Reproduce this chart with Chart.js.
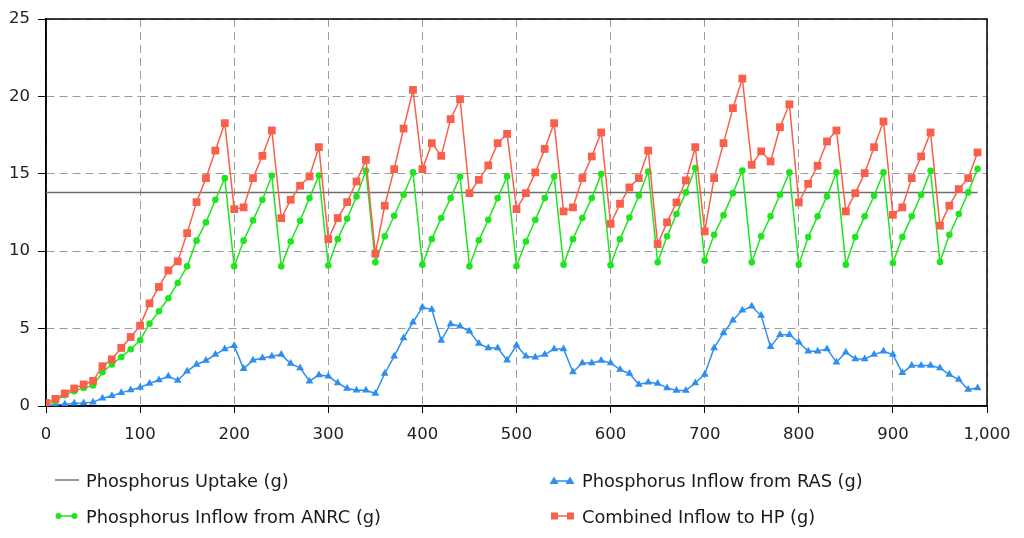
<!DOCTYPE html>
<html>
<head>
<meta charset="utf-8">
<script src="https://cdn.jsdelivr.net/npm/chart.js@4.4.1/dist/chart.umd.min.js"></script>
<style>
    html, body { margin: 0; padding: 0; background: #fff; }
    #wrap { position: relative; width: 1024px; height: 538px; overflow: hidden; }
    #chart { position: absolute; left: 0; top: 0; }
    .legend-item {
        position: absolute;
        font: 17.8px "DejaVu Sans", sans-serif;
        color: #1a1a1a;
        display: flex;
        align-items: center;
        white-space: nowrap;
        height: 20px;
    }
    .legend-item svg { margin-right: 6px; }
</style>
</head>
<body>
<div id="wrap">
    <canvas id="chart" width="1024" height="538"></canvas>
    <div class="legend-item" style="left:54px; top:470px;">
        <svg width="26" height="12"><line x1="1" y1="6" x2="25" y2="6" stroke="#777" stroke-width="1.5"/></svg>
        <span>Phosphorus Uptake (g)</span>
    </div>
    <div class="legend-item" style="left:550px; top:470px;">
        <svg width="26" height="12"><line x1="4" y1="7" x2="22" y2="7" stroke="#2e8ff0" stroke-width="1.5"/>
            <polygon points="4,2.5 8.5,10 -0.5,10" fill="#2e8ff0"/><polygon points="20,2.5 24.5,10 15.5,10" fill="#2e8ff0"/></svg>
        <span>Phosphorus Inflow from RAS (g)</span>
    </div>
    <div class="legend-item" style="left:54px; top:506px;">
        <svg width="26" height="12"><line x1="4" y1="6" x2="22" y2="6" stroke="#1ee61e" stroke-width="1.5"/>
            <circle cx="4.5" cy="6" r="3" fill="#1ee61e"/><circle cx="20.5" cy="6" r="3" fill="#1ee61e"/></svg>
        <span>Phosphorus Inflow from ANRC (g)</span>
    </div>
    <div class="legend-item" style="left:550px; top:506px;">
        <svg width="26" height="12"><line x1="4" y1="6" x2="22" y2="6" stroke="#fa5f4b" stroke-width="1.5"/>
            <rect x="1" y="2.5" width="7" height="7" fill="#fa5f4b"/><rect x="17" y="2.5" width="7" height="7" fill="#fa5f4b"/></svg>
        <span>Combined Inflow to HP (g)</span>
    </div>
</div>
<script>
// x positions of the samples (every 10 units)
const xValues = [
    0, 10, 20, 30, 40, 50, 60, 70, 80, 90,
    100, 110, 120, 130, 140, 150, 160, 170, 180, 190,
    200, 210, 220, 230, 240, 250, 260, 270, 280, 290,
    300, 310, 320, 330, 340, 350, 360, 370, 380, 390,
    400, 410, 420, 430, 440, 450, 460, 470, 480, 490,
    500, 510, 520, 530, 540, 550, 560, 570, 580, 590,
    600, 610, 620, 630, 640, 650, 660, 670, 680, 690,
    700, 710, 720, 730, 740, 750, 760, 770, 780, 790,
    800, 810, 820, 830, 840, 850, 860, 870, 880, 890,
    900, 910, 920, 930, 940, 950, 960, 970, 980, 990
];

// Phosphorus Uptake (g) - flat line
const uptakeX = [0, 990];
const uptake = [13.8, 13.8];

// Phosphorus Inflow from RAS (g)
const rasInflow = [
    0.03, 0.08, 0.12, 0.17, 0.2, 0.25, 0.5, 0.66, 0.85, 1.04,
    1.2, 1.45, 1.68, 1.92, 1.65, 2.25, 2.68, 2.94, 3.32, 3.69,
    3.9, 2.4, 2.96, 3.1, 3.21, 3.32, 2.74, 2.46, 1.6, 2.01,
    1.92, 1.49, 1.13, 1.02, 1.02, 0.81, 2.1, 3.21, 4.4, 5.41,
    6.38, 6.23, 4.23, 5.3, 5.15, 4.83, 4.03, 3.75, 3.75, 2.96,
    3.92, 3.21, 3.15, 3.32, 3.69, 3.69, 2.2, 2.78, 2.78, 2.94,
    2.78, 2.35, 2.1, 1.39, 1.54, 1.46, 1.17, 1.0, 1.0, 1.49,
    2.04, 3.75, 4.72, 5.54, 6.18, 6.44, 5.84, 3.82, 4.61, 4.61,
    4.12, 3.54, 3.54, 3.69, 2.83, 3.47, 3.04, 3.04, 3.32, 3.54,
    3.32, 2.14, 2.61, 2.61, 2.61, 2.46, 2.03, 1.71, 1.06, 1.17
];

// Phosphorus Inflow from ANRC (g)
const anrcInflow = [
    0.05, 0.31, 0.7, 0.96, 1.17, 1.32, 2.18, 2.68, 3.17, 3.67,
    4.25, 5.32, 6.12, 6.96, 7.95, 9.02, 10.68, 11.86, 13.32, 14.72,
    9.02, 10.68, 11.99, 13.32, 14.87, 9.02, 10.63, 11.97, 13.43, 14.89,
    9.08, 10.78, 12.1, 13.54, 15.21, 9.28, 10.96, 12.29, 13.65, 15.09,
    9.13, 10.78, 12.14, 13.43, 14.83, 9.02, 10.7, 12.03, 13.43, 14.83,
    9.02, 10.63, 12.03, 13.43, 14.83, 9.13, 10.78, 12.14, 13.43, 14.98,
    9.1, 10.78, 12.18, 13.58, 15.15, 9.28, 10.96, 12.4, 13.8, 15.37,
    9.39, 11.06, 12.33, 13.75, 15.21, 9.28, 10.96, 12.25, 13.65, 15.09,
    9.13, 10.91, 12.25, 13.54, 15.09, 9.13, 10.91, 12.25, 13.58, 15.09,
    9.24, 10.91, 12.25, 13.65, 15.19, 9.3, 11.06, 12.4, 13.8, 15.32
];

// Combined Inflow to HP (g)
const combinedInflow = [
    0.2, 0.46, 0.81, 1.13, 1.39, 1.62, 2.57, 3.02, 3.75, 4.46,
    5.19, 6.63, 7.69, 8.76, 9.34, 11.17, 13.17, 14.72, 16.5, 18.27,
    12.72, 12.83, 14.72, 16.16, 17.8, 12.13, 13.32, 14.23, 14.83, 16.72,
    10.78, 12.14, 13.17, 14.5, 15.9, 9.84, 12.94, 15.3, 17.92, 20.42,
    15.3, 16.98, 16.16, 18.53, 19.82, 13.75, 14.61, 15.54, 16.98, 17.58,
    12.72, 13.75, 15.09, 16.61, 18.27, 12.57, 12.83, 14.72, 16.12, 17.67,
    11.77, 13.06, 14.12, 14.72, 16.5, 10.46, 11.86, 13.15, 14.57, 16.72,
    11.28, 14.72, 16.98, 19.24, 21.15, 15.58, 16.45, 15.8, 18.01, 19.49,
    13.15, 14.35, 15.52, 17.09, 17.8, 12.57, 13.75, 15.04, 16.72, 18.38,
    12.35, 12.83, 14.72, 16.12, 17.67, 11.65, 12.94, 14.01, 14.72, 16.38
];

const toPoints = (xs, ys) => xs.map((x, i) => ({ x: x, y: ys[i] }));

const tickFont = { family: '"DejaVu Sans", sans-serif', size: 16.5 };

// draws the black box round the plot area
const framePlugin = {
    id: 'frame',
    beforeDatasetsDraw(chart) {
        const a = chart.chartArea;
        const ctx = chart.ctx;
        ctx.save();
        ctx.strokeStyle = '#000';
        ctx.lineWidth = 1.5;
        ctx.strokeRect(a.left, a.top, a.right - a.left, a.bottom - a.top);
        ctx.restore();
    }
};

const ctx = document.getElementById('chart').getContext('2d');
const chart = new Chart(ctx, {
    type: 'line',
    data: {
        datasets: [
            {
                label: 'Phosphorus Uptake (g)',
                data: toPoints(uptakeX, uptake),
                borderColor: '#6e6e6e',
                borderWidth: 1.5,
                pointRadius: 0,
                order: 4
            },
            {
                label: 'Phosphorus Inflow from RAS (g)',
                data: toPoints(xValues, rasInflow),
                borderColor: '#2e8ff0',
                backgroundColor: '#2e8ff0',
                borderWidth: 1.5,
                pointStyle: 'triangle',
                pointRadius: 4.5,
                pointBorderWidth: 0,
                order: 3
            },
            {
                label: 'Phosphorus Inflow from ANRC (g)',
                data: toPoints(xValues, anrcInflow),
                borderColor: '#1ee61e',
                backgroundColor: '#1ee61e',
                borderWidth: 1.5,
                pointStyle: 'circle',
                pointRadius: 3.3,
                pointBorderWidth: 0,
                order: 2
            },
            {
                label: 'Combined Inflow to HP (g)',
                data: toPoints(xValues, combinedInflow),
                borderColor: '#fa5f4b',
                backgroundColor: '#fa5f4b',
                borderWidth: 1.5,
                pointStyle: 'rect',
                pointRadius: 5.5,
                pointBorderWidth: 0,
                order: 1
            }
        ]
    },
    options: {
        responsive: false,
        animation: false,
        devicePixelRatio: 1,
        layout: {
            padding: { left: 0, right: 37, top: 19, bottom: 82 }
        },
        plugins: {
            legend: { display: false },
            tooltip: { enabled: false }
        },
        elements: {
            line: { tension: 0 }
        },
        scales: {
            x: {
                type: 'linear',
                min: 0,
                max: 1000,
                ticks: {
                    stepSize: 100,
                    color: '#222',
                    font: tickFont,
                    padding: 12
                },
                grid: {
                    color: '#9c9c9c',
                    lineWidth: 1,
                    tickColor: '#000',
                    tickLength: 7,
                    tickWidth: 1
                },
                border: { color: '#000', width: 1.5, dash: [8, 5] },
                afterFit(scale) { scale.height = 50; }
            },
            y: {
                min: 0,
                max: 25,
                ticks: {
                    stepSize: 5,
                    color: '#222',
                    font: tickFont,
                    padding: 8
                },
                grid: {
                    color: '#9c9c9c',
                    lineWidth: 1,
                    tickColor: '#000',
                    tickLength: 8,
                    tickWidth: 1
                },
                border: { color: '#000', width: 1.5, dash: [8, 5] },
                afterFit(scale) { scale.width = 46; }
            }
        }
    },
    plugins: [framePlugin]
});
</script>
</body>
</html>
